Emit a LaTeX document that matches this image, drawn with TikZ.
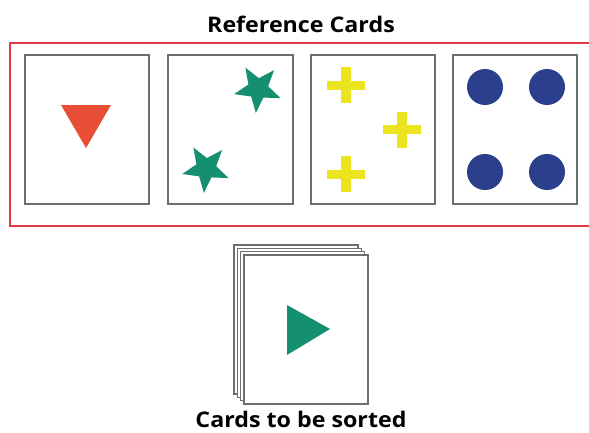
\documentclass[tikz,border=0pt]{standalone}
\usepackage{fontspec}
\setmainfont{Open Sans}[FakeStretch=1.08]
\usetikzlibrary{shapes.geometric}
\definecolor{refred}{HTML}{E33A46}
\definecolor{cardgray}{HTML}{6E6E6E}
\definecolor{triorange}{HTML}{E84E36}
\definecolor{stargreen}{HTML}{148F70}
\definecolor{crossyellow}{HTML}{ECE41E}
\definecolor{dotblue}{HTML}{2B3F8C}
\tikzset{
  card/.style={draw=cardgray, line width=1.2pt, fill=white},
  label/.style={font=\bfseries\fontsize{21.5}{24}\selectfont, anchor=base, inner sep=0pt},
  starshape/.style={star, star points=5, star point ratio=2.35, minimum size=49pt, inner sep=0pt, outer sep=0pt, fill=stargreen, shape border rotate=31},
  dot/.style={circle, fill=dotblue, minimum size=36pt, inner sep=0pt},
}
\newcommand{\plus}[2]{%
  \fill[crossyellow] (#1-19,#2-4.5) rectangle (#1+19,#2+4.5);
  \fill[crossyellow] (#1-5,#2-18) rectangle (#1+5,#2+18);}
\begin{document}
\begin{tikzpicture}[x=1pt,y=-1pt]
\useasboundingbox (0,0) rectangle (589,432);
\fill[white] (0,0) rectangle (589,432);
% title
\node[label] (title) at (301,32.3) {Reference Cards};
% red frame
\draw[refred, line width=2pt] (595,43) -- (9.5,43) -- (9.5,226) -- (595,226);
% reference cards
\draw[card] (25,55) rectangle (149,204) coordinate (c1);
\draw[card] (168,55) rectangle (293,204) coordinate (c2);
\draw[card] (311,55) rectangle (435,204) coordinate (c3);
\draw[card] (453,55) rectangle (577,204) coordinate (c4);
% card 1: triangle
\fill[triorange] (61,105) coordinate (t1) -- (111,105) -- (86,148) -- cycle;
% card 2: stars
\node[starshape] (s1) at (258,88.6) {};
\node[starshape] (s2) at (206,168.5) {};
% card 3: crosses
\plus{346}{85}
\plus{402}{129.5}
\plus{346}{174}
% card 4: dots
\node[dot] (d1) at (485,87) {};
\node[dot] (d2) at (547,87) {};
\node[dot] (d3) at (485,172) {};
\node[dot] (d4) at (547,172) {};
% stack of cards to be sorted
\draw[card] (234,245) rectangle (358,394);
\draw[card] (237.3,248.3) rectangle (361.3,397.3);
\draw[card] (240.7,251.7) rectangle (364.7,400.7);
\draw[card] (244,255) rectangle (368,404);
\fill[stargreen] (287,305) -- (287,355) -- (330,329) -- cycle;
\node[label] (bottom) at (301,427.3) {Cards to be sorted};
\end{tikzpicture}
\end{document}
